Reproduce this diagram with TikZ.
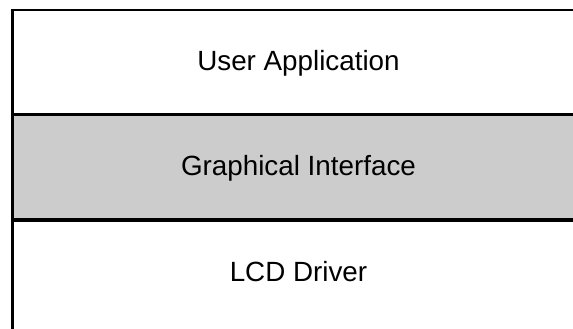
\documentclass[tikz,border=0pt]{standalone}
\usepackage{fontspec}
\setmainfont{Liberation Sans}
\begin{document}
\begin{tikzpicture}[x=1pt,y=-1pt,
  rule/.style={line width=3.5pt,black},
  lbl/.style={font=\fontsize{27.8}{32}\selectfont,anchor=base,inner sep=0pt}]
\useasboundingbox (0,0) rectangle (573,329);
\fill[fill={rgb,255:red,204;green,204;blue,204}] (14,116) rectangle (573,218.5);
\draw[line width=2.5pt] (573,10) -- (12.5,10) -- (12.5,329);
\draw[rule] (11,114.5) -- (573,114.5);
\draw[rule] (11,220) -- (573,220);
\node[lbl] (app) at (298.5,70.5) {User Application};
\node[lbl] (gui) at (298.5,175.5) {Graphical Interface};
\node[lbl] (lcd) at (298.5,281) {LCD Driver};
\end{tikzpicture}
\end{document}
